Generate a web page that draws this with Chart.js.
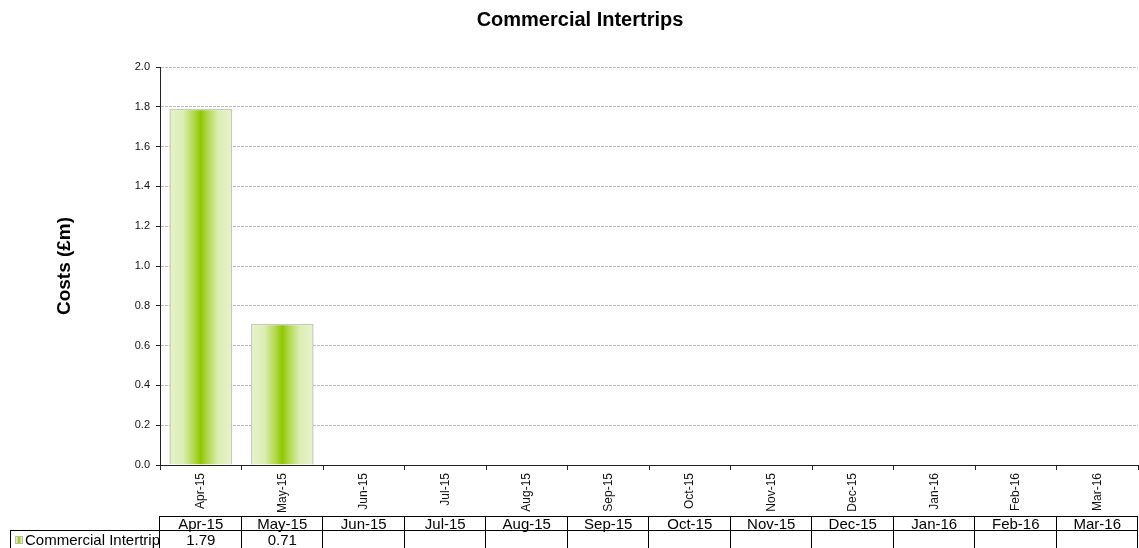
<!DOCTYPE html>
<html>
<head>
<meta charset="utf-8">
<title>Commercial Intertrips</title>
<script src="https://cdn.jsdelivr.net/npm/chart.js@4.4.1/dist/chart.umd.min.js"></script>
<style>
    body { margin: 0; background: #fff; }
    #wrap { width: 1139px; height: 548px; }
</style>
</head>
<body>
<div id="wrap"><canvas id="costChart" width="1139" height="548"></canvas></div>
<script>
// Data bulanan
const months = ['Apr-15', 'May-15', 'Jun-15', 'Jul-15', 'Aug-15', 'Sep-15',
                'Oct-15', 'Nov-15', 'Dec-15', 'Jan-16', 'Feb-16', 'Mar-16'];
const intertripCosts = [1.79, 0.71, null, null, null, null, null, null, null, null, null, null];
const seriesName = 'Commercial Intertrip';
const chartTitle = 'Commercial Intertrips';
const yAxisTitle = 'Costs (£m)';
const yMin = 0;
const yMax = 2.0;
const yStep = 0.2;

const FONT = '"Liberation Sans", Arial, sans-serif';
const BAR_PCT = 0.77;

// Gradien horizontal untuk batang: terang di tepi, hijau tua di tengah
function barGradient(ctx, x0, x1) {
    const g = ctx.createLinearGradient(x0, 0, x1, 0);
    g.addColorStop(0, '#e6f3cb');
    g.addColorStop(0.22, '#dcedb4');
    g.addColorStop(0.42, '#a9d43a');
    g.addColorStop(0.5, '#8fc600');
    g.addColorStop(0.58, '#a9d43a');
    g.addColorStop(0.78, '#dcedb4');
    g.addColorStop(1, '#e6f3cb');
    return g;
}

// Judul chart, judul sumbu Y dan tabel data di bawah
const extrasPlugin = {
    id: 'extras',
    afterDraw(chart) {
        const ctx = chart.ctx;
        const area = chart.chartArea;
        const colW = (area.right - area.left) / months.length;

        ctx.save();
        ctx.fillStyle = '#000';
        ctx.font = 'bold 20px ' + FONT;
        ctx.textAlign = 'center';
        ctx.textBaseline = 'alphabetic';
        ctx.fillText(chartTitle, 580, 26);

        ctx.save();
        ctx.translate(65, 266);
        ctx.rotate(-Math.PI / 2);
        ctx.font = 'bold 19px ' + FONT;
        ctx.textBaseline = 'middle';
        ctx.fillText(yAxisTitle, 0, 0);
        ctx.restore();

        // tabel data (baris kedua terpotong di bawah kanvas)
        const top = 516, mid = 530, bottom = chart.height;
        const labelLeft = 10;
        ctx.strokeStyle = '#000';
        ctx.lineWidth = 1;
        ctx.beginPath();
        ctx.moveTo(area.left, top + 0.5);
        ctx.lineTo(area.right, top + 0.5);
        ctx.moveTo(labelLeft, mid + 0.5);
        ctx.lineTo(area.right, mid + 0.5);
        ctx.moveTo(labelLeft + 0.5, mid);
        ctx.lineTo(labelLeft + 0.5, bottom);
        for (let i = 0; i <= months.length; i++) {
            const x = Math.round(area.left + i * colW) - 0.5;
            ctx.moveTo(x, top);
            ctx.lineTo(x, bottom);
        }
        ctx.stroke();

        ctx.font = '15px ' + FONT;
        ctx.textAlign = 'center';
        ctx.textBaseline = 'alphabetic';
        months.forEach((m, i) => {
            const cx = area.left + (i + 0.5) * colW;
            ctx.fillText(m, cx, 529);
            const v = intertripCosts[i];
            if (v !== null) ctx.fillText(v.toFixed(2), cx, 545);
        });

        // kotak legenda kecil
        const sx = 15, sy = 536, ss = 8;
        ctx.fillStyle = barGradient(ctx, sx, sx + ss);
        ctx.fillRect(sx, sy, ss, ss);
        ctx.strokeStyle = '#b8bca8';
        ctx.strokeRect(sx + 0.5, sy + 0.5, ss - 1, ss - 1);
        ctx.fillStyle = '#000';
        ctx.textAlign = 'left';
        ctx.fillText(seriesName, 25, 545);
        ctx.restore();
    }
};

const ctx = document.getElementById('costChart').getContext('2d');
new Chart(ctx, {
    type: 'bar',
    data: {
        labels: months,
        datasets: [{
            label: seriesName,
            data: intertripCosts,
            backgroundColor: function(context) {
                const chart = context.chart;
                const xScale = chart.scales.x;
                if (!chart.chartArea || !xScale) return '#b5da55';
                const cx = xScale.getPixelForValue(context.dataIndex);
                const half = (chart.chartArea.right - chart.chartArea.left) / months.length * BAR_PCT / 2;
                return barGradient(chart.ctx, cx - half, cx + half);
            },
            borderColor: '#c6cab8',
            borderWidth: 1.5,
            categoryPercentage: 1,
            barPercentage: BAR_PCT
        }]
    },
    options: {
        responsive: false,
        animation: false,
        layout: { padding: { top: 67, right: 1, bottom: 0, left: 0 } },
        plugins: {
            legend: { display: false },
            title: { display: false },
            tooltip: { enabled: false }
        },
        scales: {
            x: {
                grid: { drawOnChartArea: false, drawTicks: true, tickLength: 5, tickColor: '#222', offset: true },
                border: { color: '#222', width: 1 },
                ticks: {
                    autoSkip: false,
                    minRotation: 90,
                    maxRotation: 90,
                    padding: 3,
                    color: '#111',
                    font: { family: FONT, size: 12 }
                },
                afterFit: function(scale) { scale.height = 83; }
            },
            y: {
                min: yMin,
                max: yMax,
                ticks: {
                    stepSize: yStep,
                    padding: 6,
                    color: '#111',
                    font: { family: FONT, size: 11 },
                    callback: function(v) { return Number(v).toFixed(1); }
                },
                grid: { color: '#bdbdbd', lineWidth: 1, tickColor: '#222', tickLength: 4 },
                border: { color: '#222', width: 1, dash: [3, 1] },
                afterFit: function(scale) { scale.width = 160; }
            }
        }
    },
    plugins: [extrasPlugin]
});
</script>
</body>
</html>
